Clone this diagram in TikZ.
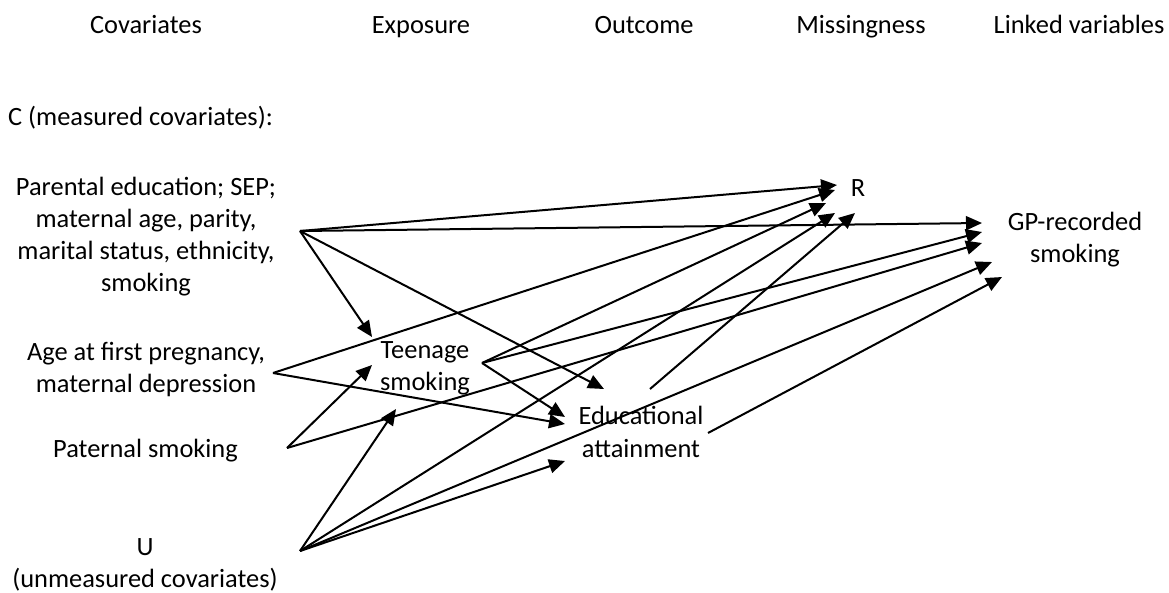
\documentclass[tikz,border=0pt]{standalone}
\usepackage{fontspec}
\setmainfont{Carlito}
\usetikzlibrary{arrows.meta}

\begin{document}
\begin{tikzpicture}[x=1pt,y=-1pt,
        lbl/.style={inner sep=0pt, align=center, font=\fontsize{26.4}{32.2}\selectfont},
        arr/.style={line width=2pt, -{Triangle[length=16pt,width=14pt]}}]
            \useasboundingbox (0,0) rectangle (1169,592);
            \node[lbl, anchor=base] (hcov) at (146,33) {Covariates};
            \node[lbl, anchor=base] (hexp) at (421,33) {Exposure};
            \node[lbl, anchor=base] (hout) at (644,33) {Outcome};
            \node[lbl, anchor=base] (hmis) at (861,33) {Missingness};
            \node[lbl, anchor=base] (hlink) at (1079,33) {Linked variables};
            \node[lbl, anchor=base west] (cmeas) at (8,125) {C (measured covariates):};
            \node[lbl] (par) at (146,236.5) {Parental education; SEP;\\maternal age, parity,\\marital status, ethnicity,\\smoking};
            \node[lbl] (age) at (146,369.5) {Age at first pregnancy,\\maternal depression};
            \node[lbl, anchor=base] (pat) at (145.5,457) {Paternal smoking};
            \node[lbl] (u) at (145,565) {U\\(unmeasured covariates)};
            \node[lbl] (teen) at (425,368) {Teenage\\smoking};
            \node[lbl] (edu) at (641,432) {Educational\\attainment};
            \node[lbl, anchor=base] (r) at (858,196) {R};
            \node[lbl] (gp) at (1075,239.5) {GP-recorded\\smoking};
            \coordinate (parV) at (300,231);
            \coordinate (ageV) at (273,373);
            \coordinate (patV) at (287,448);
            \coordinate (uV) at (300,551);
            \coordinate (teenV) at ([shift={(57,-5)}]teen.center);
            \coordinate (eduV) at ([shift={(9,-43)}]edu.center);
            \coordinate (eduW) at ([shift={(67,1)}]edu.center);
            \draw[arr] (parV) -- ([shift={(-21,-11)}]r.base);
            \draw[arr] (parV) -- ([shift={(-93,-16.5)}]gp.center);
            \draw[arr] (parV) -- ([shift={(-53,-31)}]teen.center);
            \draw[arr] (parV) -- ([shift={(-37,-43)}]edu.center);
            \draw[arr] (ageV) -- ([shift={(-23,-6)}]r.base);
            \draw[arr] (ageV) -- ([shift={(-76,-8)}]edu.center);
            \draw[arr] (patV) -- ([shift={(-53,-3)}]teen.center);
            \draw[arr] (patV) -- ([shift={(-93,3.5)}]gp.center);
            \draw[arr] (uV) -- ([shift={(-29,41)}]teen.center);
            \draw[arr] (uV) -- ([shift={(-23,17)}]r.base);
            \draw[arr] (uV) -- ([shift={(-83,22.5)}]gp.center);
            \draw[arr] (uV) -- ([shift={(-76,29)}]edu.center);
            \draw[arr] (teenV) -- ([shift={(-76,-15)}]edu.center);
            \draw[arr] (teenV) -- ([shift={(-32,7)}]r.base);
            \draw[arr] (teenV) -- ([shift={(-93,-7.5)}]gp.center);
            \draw[arr] (eduV) -- ([shift={(-3,17)}]r.base);
            \draw[arr] (eduW) -- ([shift={(-73,37.5)}]gp.center);
        \end{tikzpicture}
\end{document}
